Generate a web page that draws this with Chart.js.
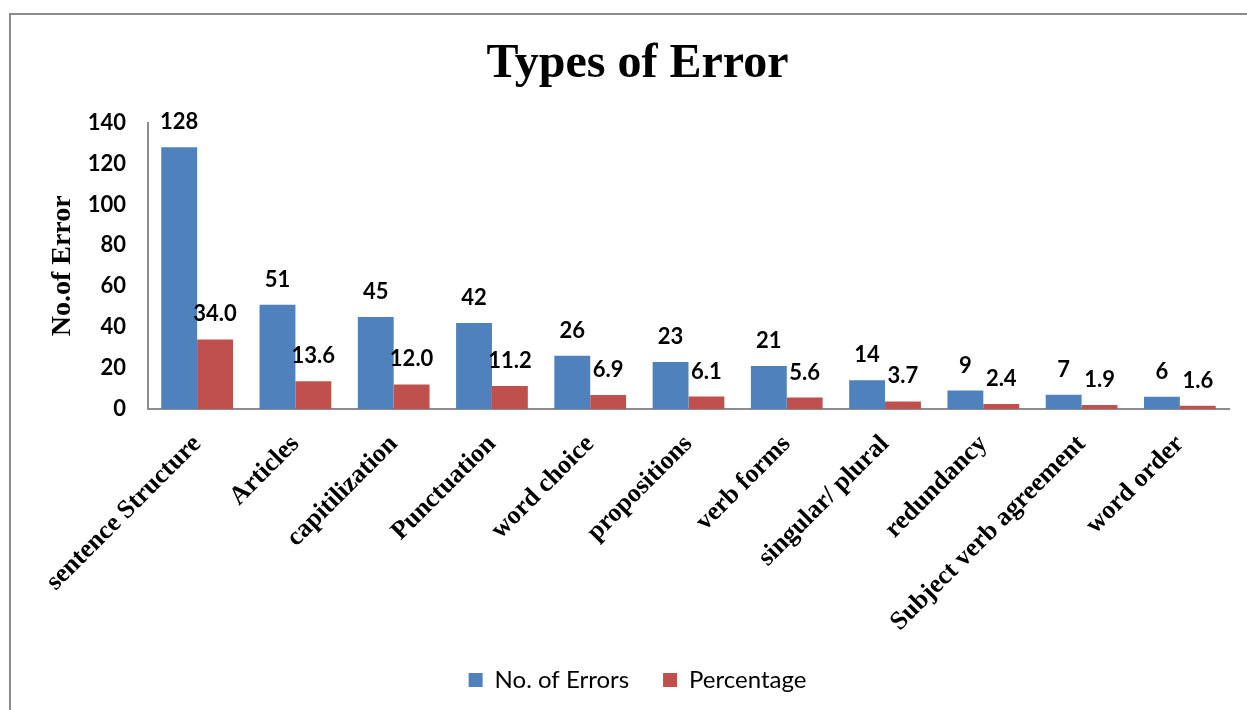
<!DOCTYPE html>
<html>
<head>
<meta charset="utf-8">
<script src="https://cdn.jsdelivr.net/npm/chart.js@4/dist/chart.umd.min.js"></script>
<style>
  html, body { margin: 0; padding: 0; background: #fff; }
  #wrap { position: relative; width: 1247px; height: 710px; overflow: hidden; }
  #frame { position: absolute; left: 9px; top: 13px; width: 1300px; height: 800px; border: 2px solid #8c8c8c; }
  #c { position: absolute; left: 0; top: 0; }
</style>
</head>
<body>
<div id="wrap">
  <div id="frame"></div>
  <canvas id="c" width="1247" height="710"></canvas>
</div>
<script>
const categories = ['sentence Structure', 'Articles', 'capitilization', 'Punctuation', 'word choice',
  'propositions', 'verb forms', 'singular/ plural', 'redundancy', 'Subject verb agreement', 'word order'];
const errorCounts = [128, 51, 45, 42, 26, 23, 21, 14, 9, 7, 6];
const percentages = [34.0, 13.6, 12.0, 11.2, 6.9, 6.1, 5.6, 3.7, 2.4, 1.9, 1.6];
const yTicks = [0, 20, 40, 60, 80, 100, 120, 140];

const sansFont = 'Lato, "Liberation Sans", sans-serif';
const serifFont = '"Liberation Serif", "Times New Roman", serif';

// draws value labels above each bar
const valueLabels = {
  id: 'valueLabels',
  afterDatasetsDraw(chart) {
    const ctx = chart.ctx;
    ctx.save();
    ctx.font = 'bold 22px ' + sansFont;
    ctx.fillStyle = '#000';
    ctx.textAlign = 'center';
    ctx.textBaseline = 'alphabetic';
    chart.data.datasets.forEach((ds, i) => {
      const meta = chart.getDatasetMeta(i);
      meta.data.forEach((bar, j) => {
        const v = ds.data[j];
        const txt = i === 1 ? v.toFixed(1) : String(v);
        ctx.fillText(txt, bar.x, bar.y - 18);
      });
    });
    ctx.restore();
  }
};

new Chart(document.getElementById('c'), {
  type: 'bar',
  data: {
    labels: categories,
    datasets: [{
      label: 'No. of Errors',
      data: errorCounts,
      backgroundColor: '#4F81BD'
    }, {
      label: 'Percentage',
      data: percentages,
      backgroundColor: '#C0504D'
    }]
  },
  options: {
    responsive: false,
    animation: false,
    layout: { padding: { left: 46, right: 18, top: 0, bottom: 8 } },
    plugins: {
      title: {
        display: true,
        text: 'Types of Error',
        color: '#000',
        font: { family: serifFont, size: 48, weight: 'bold' },
        padding: { top: 36, bottom: 29 }
      },
      legend: {
        position: 'bottom',
        labels: {
          color: '#000',
          font: { family: sansFont, size: 24 },
          boxWidth: 14,
          boxHeight: 14,
          padding: 34
        }
      },
      tooltip: { enabled: false }
    },
    datasets: {
      bar: { categoryPercentage: 0.73, barPercentage: 1.0 }
    },
    scales: {
      x: {
        grid: { display: false, drawTicks: false },
        border: { color: '#8c8c8c', width: 2 },
        ticks: {
          color: '#000',
          font: { family: serifFont, size: 26, weight: 'bold' },
          minRotation: 45,
          maxRotation: 45,
          autoSkip: false,
          padding: 20
        },
        afterFit(scale) { scale.height = 225; }
      },
      y: {
        min: 0,
        max: 140,
        grid: { display: false, drawTicks: false },
        border: { color: '#8c8c8c', width: 2 },
        afterBuildTicks(scale) { scale.ticks = yTicks.map(v => ({ value: v })); },
        ticks: {
          color: '#000',
          font: { family: sansFont, size: 22, weight: 'bold' },
          padding: 22
        },
        title: {
          display: true,
          text: 'No.of Error',
          color: '#000',
          font: { family: serifFont, size: 28, weight: 'bold' },
          padding: 0
        },
        afterFit(scale) { scale.width = 102; }
      }
    }
  },
  plugins: [valueLabels]
});
</script>
</body>
</html>
